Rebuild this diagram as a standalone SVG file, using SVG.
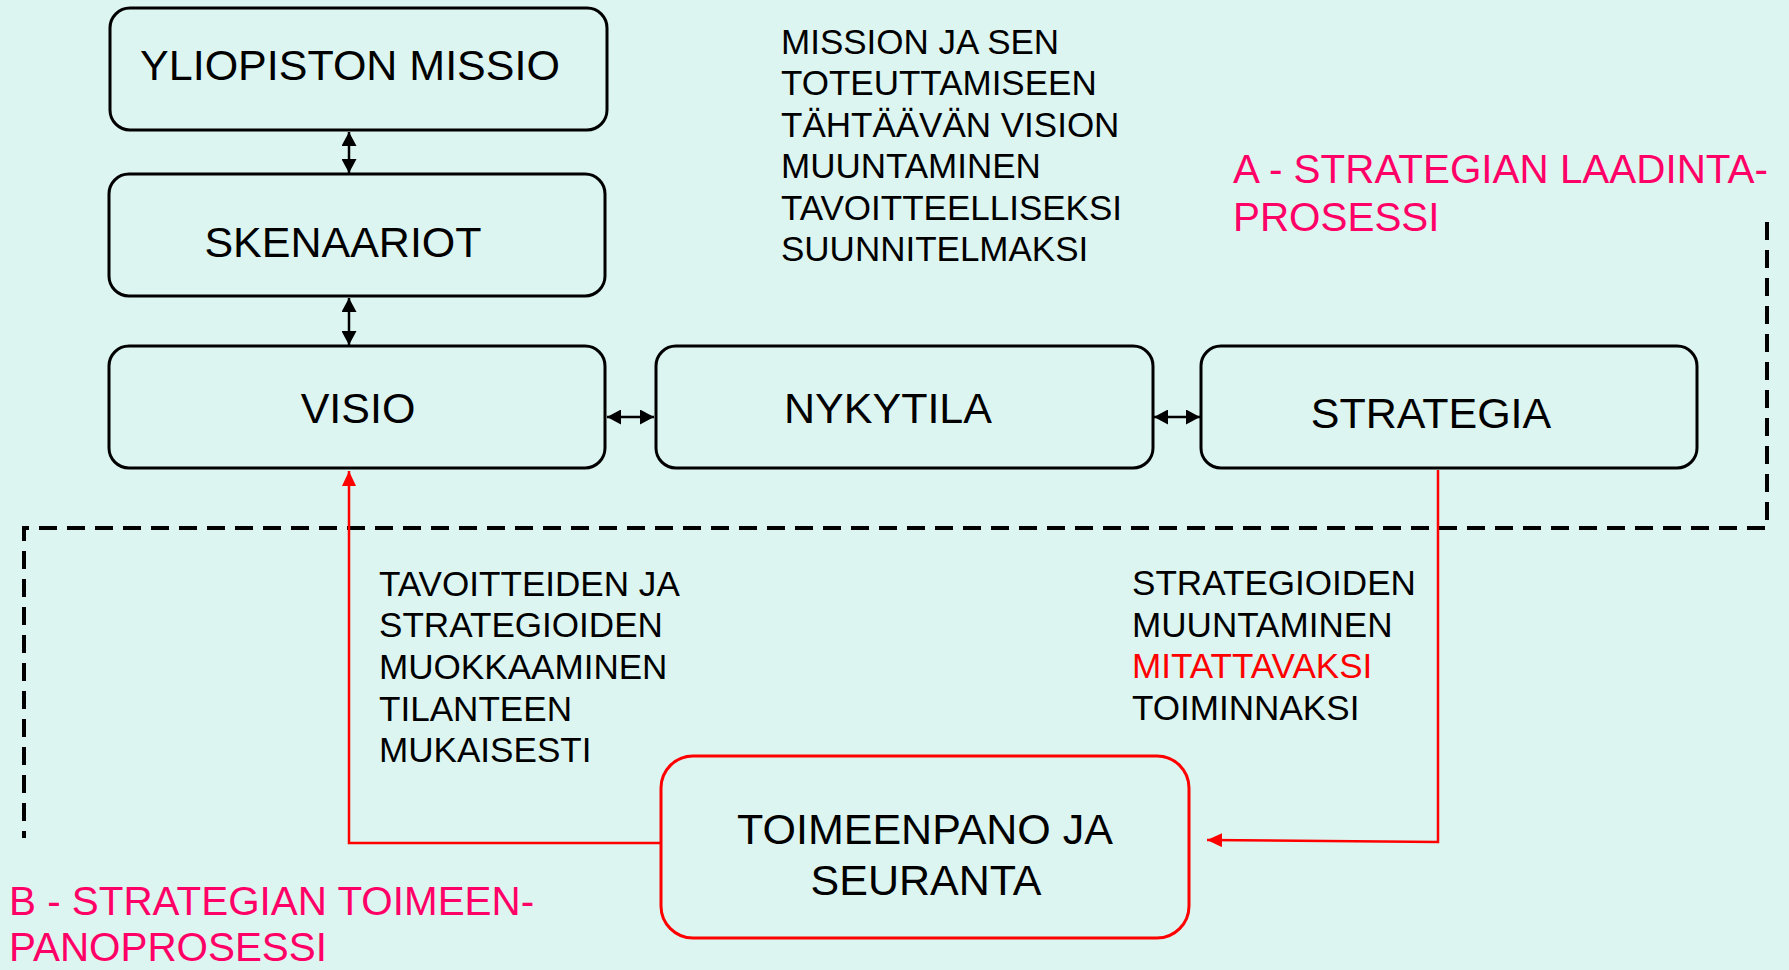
<svg xmlns="http://www.w3.org/2000/svg" width="1789" height="970" viewBox="0 0 1789 970">
<style>
text{font-family:"Liberation Sans",Arial,sans-serif;fill:#000}
.box{fill:none;stroke:#000;stroke-width:3}
.rbox{fill:none;stroke:#ff0000;stroke-width:3}
.lbl{font-size:43px;text-anchor:middle}
.note{font-size:35px}
.note2{font-size:35.1px}
.pink{font-size:40.4px;fill:#ff0066}
.blk{stroke:#000;stroke-width:2.5;fill:none}
.red{stroke:#ff0000;stroke-width:2.5;fill:none}
</style>
<defs>
<marker id="ab" markerUnits="userSpaceOnUse" viewBox="0 0 14 15" markerWidth="14" markerHeight="15" refX="14" refY="7.5" orient="auto-start-reverse"><path d="M0,0 L14,7.5 L0,15 z" fill="#000"/></marker>
<marker id="ar" markerUnits="userSpaceOnUse" viewBox="0 0 15 14" markerWidth="15" markerHeight="14" refX="15" refY="7" orient="auto"><path d="M0,0 L15,7 L0,14 z" fill="#ff0000"/></marker>
</defs>
<rect width="1789" height="970" fill="#ddf5f1"/>
<g id="connectors">
<path d="M1767,222 L1767,528 L24,528 L24,838" fill="none" stroke="#000" stroke-width="4" stroke-dasharray="18 10"/>
<line class="blk" x1="349" y1="132" x2="349" y2="173" marker-start="url(#ab)" marker-end="url(#ab)"/>
<line class="blk" x1="349" y1="298" x2="349" y2="345" marker-start="url(#ab)" marker-end="url(#ab)"/>
<line class="blk" x1="607" y1="417" x2="654" y2="417" marker-start="url(#ab)" marker-end="url(#ab)"/>
<line class="blk" x1="1154" y1="417" x2="1200" y2="417" marker-start="url(#ab)" marker-end="url(#ab)"/>
<polyline class="red" points="1438,470 1438,842 1207,840" marker-end="url(#ar)"/>
<polyline class="red" points="661,843 349,843 349,471" marker-end="url(#ar)"/>
</g>
<g id="node-mission"><rect class="box" x="110" y="8" width="497" height="122" rx="20"/><text class="lbl" x="350" y="80">YLIOPISTON MISSIO</text></g>
<g id="node-skenaariot"><rect class="box" x="109" y="174" width="496" height="122" rx="20"/><text class="lbl" x="343" y="257">SKENAARIOT</text></g>
<g id="node-visio"><rect class="box" x="109" y="346" width="496" height="122" rx="20"/><text class="lbl" x="358" y="423">VISIO</text></g>
<g id="node-nykytila"><rect class="box" x="656" y="346" width="497" height="122" rx="20"/><text class="lbl" x="888" y="423">NYKYTILA</text></g>
<g id="node-strategia"><rect class="box" x="1201" y="346" width="496" height="122" rx="20"/><text class="lbl" x="1431" y="428">STRATEGIA</text></g>
<g id="node-toimeenpano"><rect class="rbox" x="661" y="756" width="528" height="182" rx="32"/><text class="lbl" x="925" y="844">TOIMEENPANO JA</text><text class="lbl" x="926" y="895">SEURANTA</text></g>
<g id="note-top">
<text class="note" x="781" y="54">MISSION JA SEN</text>
<text class="note" x="781" y="95">TOTEUTTAMISEEN</text>
<text class="note" x="781" y="137">TÄHTÄÄVÄN VISION</text>
<text class="note" x="781" y="178">MUUNTAMINEN</text>
<text class="note" x="781" y="220">TAVOITTEELLISEKSI</text>
<text class="note" x="781" y="261">SUUNNITELMAKSI</text>
</g>
<g id="note-left">
<text class="note2" x="379" y="596">TAVOITTEIDEN JA</text>
<text class="note2" x="379" y="637">STRATEGIOIDEN</text>
<text class="note2" x="379" y="679">MUOKKAAMINEN</text>
<text class="note2" x="379" y="721">TILANTEEN</text>
<text class="note2" x="379" y="762">MUKAISESTI</text>
</g>
<g id="note-right">
<text class="note2" x="1132" y="595">STRATEGIOIDEN</text>
<text class="note2" x="1132" y="637">MUUNTAMINEN</text>
<text class="note2" x="1132" y="678" style="fill:#ff0000">MITATTAVAKSI</text>
<text class="note2" x="1132" y="720">TOIMINNAKSI</text>
</g>
<g id="label-a">
<text class="pink" x="1233" y="183">A - STRATEGIAN LAADINTA-</text>
<text class="pink" x="1233" y="231">PROSESSI</text>
</g>
<g id="label-b">
<text class="pink" x="9" y="915">B - STRATEGIAN TOIMEEN-</text>
<text class="pink" x="9" y="961">PANOPROSESSI</text>
</g>
</svg>
